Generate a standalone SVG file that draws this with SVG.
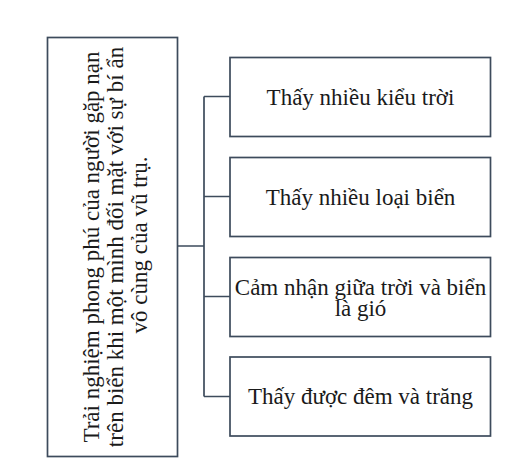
<svg xmlns="http://www.w3.org/2000/svg" width="523" height="469" viewBox="0 0 523 469">
<style>
.box{fill:#ffffff;stroke:#3d4b5c;stroke-width:1.7}
.conn{fill:none;stroke:#3d4b5c;stroke-width:1.7}
.t{font-family:"Liberation Serif","Times New Roman",serif;font-size:23px;fill:#1a1a1a;text-anchor:middle}
</style>
<rect width="523" height="469" fill="#ffffff"/>
<g id="connectors">
<path class="conn" d="M177.5,246 H204 M204,96.5 V396.5 M204,96.5 H230 M204,196.5 H230 M204,296.5 H230 M204,396.5 H230"/>
</g>
<g id="root">
<rect class="box" x="47.5" y="37.5" width="130" height="419"/>
<text class="t" transform="translate(99,247) rotate(-90)">Trải nghiệm phong phú của người gặp nạn</text>
<text class="t" transform="translate(123,247) rotate(-90)">trên biển khi một mình đối mặt với sự bí ẩn</text>
<text class="t" transform="translate(146.5,245) rotate(-90)">vô cùng của vũ trụ.</text>
</g>
<g id="n1">
<rect class="box" x="230" y="57.5" width="260.5" height="79"/>
<text class="t" x="360.5" y="105">Thấy nhiều kiểu trời</text>
</g>
<g id="n2">
<rect class="box" x="230" y="157.5" width="260.5" height="79"/>
<text class="t" x="360.5" y="204.5">Thấy nhiều loại biển</text>
</g>
<g id="n3">
<rect class="box" x="230" y="257.5" width="260.5" height="79"/>
<text class="t" x="360.5" y="294.5">Cảm nhận giữa trời và biển</text>
<text class="t" x="360.5" y="315.5">là gió</text>
</g>
<g id="n4">
<rect class="box" x="230" y="357" width="260.5" height="79"/>
<text class="t" x="360.5" y="404">Thấy được đêm và trăng</text>
</g>
</svg>
